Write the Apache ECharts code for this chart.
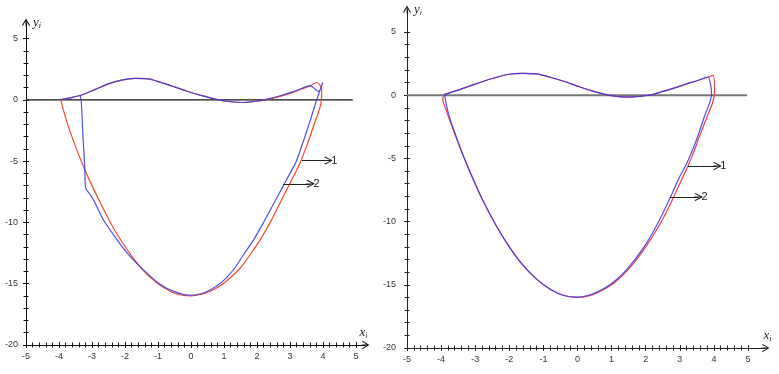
<!DOCTYPE html>
<html><head><meta charset="utf-8">
<script src="https://cdn.jsdelivr.net/npm/echarts@6/dist/echarts.min.js"></script>
<style>html,body{margin:0;padding:0;background:#fff}#c{width:779px;height:374px}</style>
</head><body><div id="c"></div>
<script>
// ---- data ----
const xTickValues = [-5,-4,-3,-2,-1,0,1,2,3,4,5];
const yTickValues = [-20,-15,-10,-5,0,5];
const minorSplits = 5;

const leftRed = [
 [-3.95,0.0],[-3.6,0.2],[-3.25,0.45],[-2.9,0.85],[-2.5,1.3],[-2.1,1.6],[-1.7,1.74],[-1.3,1.7],
 [-0.9,1.4],[-0.5,1.05],[-0.1,0.68],[0.3,0.36],[0.8,0.02],[1.2,-0.16],[1.55,-0.22],[1.9,-0.14],
 [2.25,0.0],[2.7,0.28],[3.0,0.52],[3.35,0.88],[3.6,1.12],[3.81,1.41],[3.96,0.82],[3.94,-0.27],
 [3.72,-2.1],[3.5,-3.8],[3.28,-5.3],[3.0,-6.8],[2.7,-8.4],[2.4,-10.0],[2.1,-11.4],[1.8,-12.6],
 [1.5,-13.7],[1.2,-14.5],[0.9,-15.15],[0.6,-15.6],[0.3,-15.88],[0.0,-16.0],[-0.3,-15.92],
 [-0.6,-15.65],[-1.0,-15.0],[-1.4,-14.05],[-1.85,-12.55],[-2.3,-10.7],[-2.6,-9.2],[-3.0,-7.0],
 [-3.25,-5.5],[-3.5,-3.8],[-3.75,-1.9],[-3.95,0.0]
];
const leftBlue = [
 [-3.95,0.02],[-3.65,0.15],[-3.38,0.33],[-3.33,0.0],[-3.28,-2.7],[-3.22,-5.5],[-3.19,-7.2],
 [-3.06,-7.72],[-2.96,-8.13],[-2.66,-9.76],[-2.25,-11.38],[-1.9,-12.6],[-1.45,-13.85],
 [-0.94,-15.04],[-0.5,-15.65],[-0.1,-15.93],[0.2,-15.88],[0.5,-15.62],[0.8,-15.15],[1.08,-14.5],
 [1.33,-13.7],[1.6,-12.6],[1.9,-11.4],[2.2,-10.0],[2.5,-8.5],[2.8,-7.0],[3.0,-6.0],[3.2,-4.95],
 [3.6,-1.8],[3.81,0.0],[3.99,1.41],[3.86,0.68],[3.6,1.16],[3.35,0.92],[3.0,0.58],[2.7,0.33],
 [2.25,0.02],[1.9,-0.14],[1.55,-0.22],[1.2,-0.16],[0.8,0.02],[0.3,0.36],[-0.1,0.68],[-0.5,1.05],
 [-0.9,1.4],[-1.3,1.7],[-1.7,1.74],[-2.1,1.6],[-2.5,1.3],[-2.9,0.85],[-3.25,0.45],[-3.6,0.2],
 [-3.95,0.02]
];
const rightRed = [
 [-3.92,0.05],[-3.5,0.4],[-3.0,0.88],[-2.5,1.32],[-2.0,1.66],[-1.6,1.73],[-1.2,1.68],[-0.8,1.42],
 [-0.4,1.1],[0.0,0.72],[0.4,0.36],[0.84,0.05],[1.2,-0.11],[1.55,-0.14],[1.9,-0.07],[2.15,0.02],
 [2.5,0.3],[2.85,0.58],[3.2,0.9],[3.5,1.14],[3.8,1.4],[3.97,1.57],[4.02,0.3],[3.96,-0.6],
 [3.8,-1.7],[3.6,-3.1],[3.35,-4.9],[3.12,-6.3],[2.83,-8.0],[2.52,-9.7],[2.22,-11.1],[1.9,-12.4],
 [1.6,-13.45],[1.3,-14.3],[1.0,-15.0],[0.6,-15.6],[0.3,-15.9],[0.0,-16.0],[-0.4,-15.85],
 [-0.8,-15.35],[-1.2,-14.55],[-1.6,-13.45],[-2.0,-12.0],[-2.4,-10.25],[-2.8,-8.2],[-3.1,-6.4],
 [-3.4,-4.45],[-3.65,-2.7],[-3.85,-1.2],[-3.95,-0.3],[-3.92,0.05]
];
const rightBlue = [
 [-3.9,0.05],[-3.5,0.4],[-3.0,0.88],[-2.5,1.32],[-2.0,1.66],[-1.6,1.73],[-1.2,1.68],[-0.8,1.42],
 [-0.4,1.1],[0.0,0.72],[0.4,0.36],[0.84,0.05],[1.2,-0.12],[1.55,-0.15],[1.9,-0.07],[2.15,0.02],
 [2.5,0.3],[2.85,0.58],[3.2,0.9],[3.5,1.14],[3.82,1.44],[3.9,0.9],[3.93,0.1],[3.72,-1.7],
 [3.48,-3.6],[3.22,-5.3],[2.95,-6.7],[2.72,-8.1],[2.4,-9.9],[2.05,-11.6],[1.68,-13.0],
 [1.3,-14.2],[0.95,-15.0],[0.6,-15.55],[0.3,-15.85],[0.0,-15.98],[-0.4,-15.85],[-0.8,-15.35],
 [-1.2,-14.55],[-1.6,-13.45],[-2.0,-12.0],[-2.4,-10.25],[-2.8,-8.2],[-3.1,-6.4],[-3.4,-4.45],
 [-3.62,-2.8],[-3.78,-1.5],[-3.84,-0.8],[-3.9,0.05]
];
const leftZero = [[-5,0],[4.9,0]];
const rightZero = [[-5,0],[4.97,0]];
// annotation arrows: [from, to, label]
const leftNotes = [[[3.36,-4.95],[4.16,-4.95],'1'],[[2.79,-6.85],[3.62,-6.85],'2']];
const rightNotes = [[[3.24,-5.6],[4.1,-5.6],'1'],[[2.71,-8.05],[3.55,-8.05],'2']];

// ---- layout / style ----
const ARROW = 'path://M5,0 L10,8.5 L9,9.5 L5.5,3.3 L5.5,10 L4.5,10 L4.5,3.3 L1,9.5 L0,8.5 Z';
const panels = [
  {data:{left:26, top:38.5, width:330, height:306.5}, frameTop:22.5, frameRight:365.5,
   red:leftRed, blue:leftBlue, zero:leftZero, notes:leftNotes,
   redColor:'#f24a2c', blueColor:'#3c3ce6', axisColor:'#111', zeroColor:'#111', zeroWidth:1.3,
   yLabelMargin:8, xNameGap:-2},
  {data:{left:407, top:32, width:341, height:316}, frameTop:9.5, frameRight:765.5,
   red:rightRed, blue:rightBlue, zero:rightZero, notes:rightNotes,
   redColor:'#f03a4c', blueColor:'#3c3ce6', axisColor:'#222', zeroColor:'#777', zeroWidth:2,
   yLabelMargin:11, xNameGap:2}
];
const xMin = xTickValues[0], xMax = xTickValues[xTickValues.length-1], xInt = xTickValues[1]-xTickValues[0];
const yMin = yTickValues[0], yMax = yTickValues[yTickValues.length-1], yInt = yTickValues[1]-yTickValues[0];
const labelFont = {color:'#333', fontSize:9, fontFamily:'Liberation Sans, Arial, sans-serif'};
const nameRich = {
  v:{fontFamily:'Liberation Serif', fontStyle:'italic', fontSize:13, color:'#222', lineHeight:14},
  s:{fontFamily:'Liberation Serif', fontStyle:'italic', fontSize:8, color:'#222', verticalAlign:'bottom', lineHeight:8}
};

const grid = [], xAxis = [], yAxis = [], series = [];
panels.forEach((p, pi) => {
  const d = p.data;
  const bottom = d.top + d.height;
  const fw = p.frameRight - d.left, fh = bottom - p.frameTop;
  const base = grid.length;
  grid.push({left:d.left, top:p.frameTop, width:fw, height:fh, outerBoundsMode:'none', containLabel:false});
  grid.push({left:d.left, top:d.top, width:d.width, height:d.height, outerBoundsMode:'none', containLabel:false});
  grid.push({left:d.left, top:d.top, width:d.width, height:d.height, outerBoundsMode:'none', containLabel:false});
  const tickStyle = {color:p.axisColor, width:1};
  xAxis.push({gridIndex:base, type:'value', min:xMin, max:xMin + (xMax-xMin)*fw/d.width,
    axisLine:{show:true, onZero:false, lineStyle:{color:p.axisColor, width:1}, symbol:['none', ARROW], symbolSize:[8,9]},
    axisTick:{show:false}, axisLabel:{show:false}, splitLine:{show:false},
    name:'{v|x}{s|i}', nameLocation:'end', nameGap:p.xNameGap, nameMoveOverlap:false,
    nameTextStyle:{align:'center', verticalAlign:'bottom', padding:[0,0,5,0], rich:nameRich}});
  yAxis.push({gridIndex:base, type:'value', min:yMin, max:yMin + (yMax-yMin)*fh/d.height,
    axisLine:{show:true, onZero:false, lineStyle:{color:p.axisColor, width:1}, symbol:['none', ARROW], symbolSize:[8,9]},
    axisTick:{show:false}, axisLabel:{show:false}, splitLine:{show:false},
    name:'{v|y}{s|i}', nameLocation:'end', nameGap:0, nameMoveOverlap:false,
    nameTextStyle:{align:'left', verticalAlign:'middle', padding:[0,0,0,7], rich:nameRich}});
  [false, true].forEach((inside, k) => {
    xAxis.push({gridIndex:base+1+k, type:'value', min:xMin, max:xMax, interval:xInt,
      axisLine:{show:false, onZero:false},
      axisTick:{show:true, inside:inside, length:3, lineStyle:tickStyle},
      minorTick:{show:true, splitNumber:minorSplits, length:2.5, lineStyle:tickStyle},
      axisLabel:Object.assign({show:!inside, margin:7, hideOverlap:false}, labelFont),
      splitLine:{show:false}, minorSplitLine:{show:false}});
    yAxis.push({gridIndex:base+1+k, type:'value', min:yMin, max:yMax, interval:yInt,
      axisLine:{show:false, onZero:false},
      axisTick:{show:true, inside:inside, length:3, lineStyle:tickStyle},
      minorTick:{show:true, splitNumber:minorSplits, length:2.5, lineStyle:tickStyle},
      axisLabel:Object.assign({show:!inside, margin:p.yLabelMargin, hideOverlap:false}, labelFont),
      splitLine:{show:false}, minorSplitLine:{show:false}});
  });
  const ai = base + 1;
  series.push({type:'line', xAxisIndex:ai, yAxisIndex:ai, data:p.zero, showSymbol:false, silent:true, z:2,
    lineStyle:{color:p.zeroColor, width:p.zeroWidth},
    markLine:{silent:true, symbol:['none', ARROW], symbolSize:[8,9], animation:false,
      lineStyle:{color:'#222', width:1, type:'solid'},
      label:{show:true, position:'end', formatter:'{b}', color:'#222', fontSize:11, distance:3,
        fontFamily:'Liberation Sans, Arial, sans-serif'},
      emphasis:{disabled:true},
      data:p.notes.map(n => [{coord:n[0], name:n[2]}, {coord:n[1]}])}});
  series.push({type:'line', xAxisIndex:ai, yAxisIndex:ai, data:p.red, showSymbol:false, smooth:0.3, z:3,
    lineStyle:{color:p.redColor, width:1.2}, silent:true});
  series.push({type:'line', xAxisIndex:ai, yAxisIndex:ai, data:p.blue, showSymbol:false, smooth:0.3, z:4,
    lineStyle:{color:p.blueColor, width:1.2, opacity:0.9}, silent:true});
});

const chart = echarts.init(document.getElementById('c'), null, {renderer:'canvas'});
chart.setOption({animation:false, backgroundColor:'#fff', grid, xAxis, yAxis, series});
</script></body></html>
